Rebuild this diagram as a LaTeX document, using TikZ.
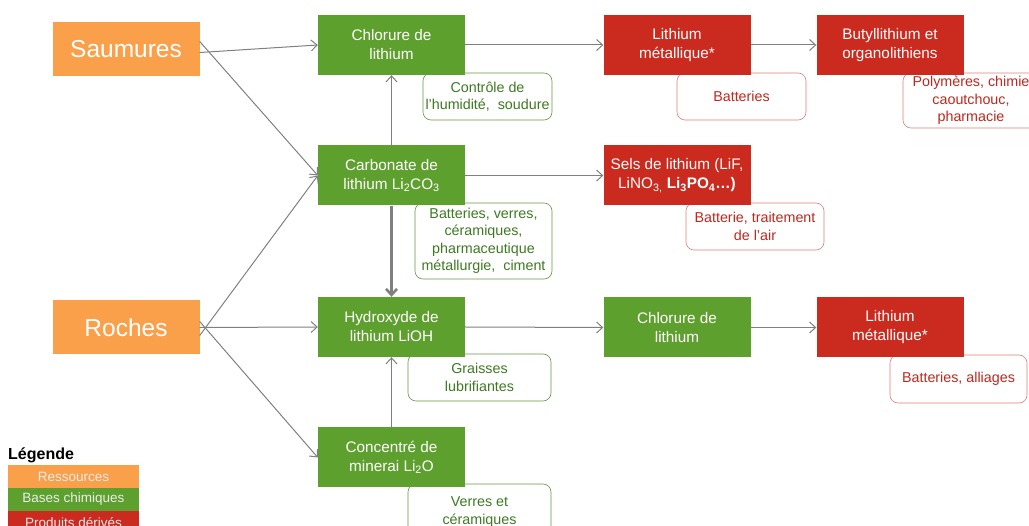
\documentclass[tikz,border=0pt]{standalone}
\usepackage{fontspec}
\setmainfont{Liberation Sans}
\usetikzlibrary{arrows.meta}
\definecolor{ressourcecol}{RGB}{250,160,75}
\definecolor{chimiecol}{RGB}{94,160,45}
\definecolor{produitcol}{RGB}{203,42,30}
\definecolor{vertusage}{RGB}{62,122,34}
\definecolor{rougeusage}{RGB}{190,40,30}
\tikzset{
  boite/.style={text=white, align=center, minimum width=147pt, minimum height=60pt, inner sep=1pt, font=\fontsize{15.3}{19}\selectfont},
  ressource/.style={boite, fill=ressourcecol, minimum height=54pt, font=\fontsize{24.5}{26}\selectfont},
  chimie/.style={boite, fill=chimiecol},
  produit/.style={boite, fill=produitcol},
  usage/.style={draw, fill=white, rounded corners=8pt, align=center, line width=0.6pt, inner sep=1pt, font=\fontsize{14.3}{17.5}\selectfont},
  usagevert/.style={usage, draw=chimiecol!70!gray, text=vertusage},
  usagerouge/.style={usage, draw=produitcol!60!white, text=rougeusage},
  legende/.style={text=white!92!black, align=center, minimum width=131pt, minimum height=23pt, inner sep=0pt, font=\fontsize{13.5}{15}\selectfont},
  fleche/.style={-{Straight Barb[length=6pt,width=11pt]}, draw=gray, line width=1pt}
}
\begin{document}
\begin{tikzpicture}[x=1pt,y=-1pt]
\useasboundingbox (0,0) rectangle (1029,526);
% usages
\node[usagevert, minimum width=129pt, minimum height=47pt] (u1) at (487.5,96.5) {Contrôle de\\l'humidité,~ soudure};
\node[usagerouge, minimum width=129pt, minimum height=47pt] (u2) at (741.5,96.5) {Batteries};
\node[usagerouge, minimum width=136pt, minimum height=55pt] (u3) at (971,100.5) {Polymères, chimie\\caoutchouc,\\pharmacie};
\node[usagevert, minimum width=137pt, minimum height=76pt] (u4) at (483.5,241) {Batteries, verres,\\céramiques,\\pharmaceutique\\métallurgie,~ ciment};
\node[usagerouge, minimum width=138pt, minimum height=47pt] (u5) at (755,226.5) {Batterie, traitement\\de l'air};
\node[usagevert, minimum width=143pt, minimum height=47pt] (u6) at (479.5,377.5) {Graisses\\lubrifiantes};
\node[usagerouge, minimum width=137pt, minimum height=48pt] (u7) at (958.5,379) {Batteries, alliages};
\node[usagevert, minimum width=143pt, minimum height=56pt] (u8) at (479.5,512) {Verres et\\céramiques};
% boites
\node[ressource] (saum) at (126,49.5) {Saumures};
\node[ressource] (roch) at (126,327.5) {Roches};
\node[chimie] (chl1) at (391.5,45) {Chlorure de\\lithium};
\node[chimie] (carb) at (391.5,175.5) {Carbonate de\\lithium Li\textsubscript{2}CO\textsubscript{3}};
\node[chimie] (hydr) at (391.5,327) {Hydroxyde de\\lithium LiOH};
\node[chimie] (conc) at (391.5,457.5) {Concentré de\\minerai Li\textsubscript{2}O};
\node[produit] (lim1) at (677,45) {Lithium\\métallique*};
\node[produit] (buty) at (890,45) {Butyllithium et\\organolithiens};
\node[produit] (sels) at (677,175.5) {Sels de lithium (LiF,\\LiNO\textsubscript{3,} \textbf{Li\textsubscript{3}PO\textsubscript{4}…)}};
\node[chimie] (chl2) at (677,327.5) {Chlorure de\\lithium};
\node[produit] (lim2) at (890,327.5) {Lithium\\métallique*};
% fleches
\draw[fleche] ([yshift=-3pt]saum.east) -- (chl1.west);
\draw[fleche] ([yshift=8pt]saum.east) -- (carb.west);
\draw[fleche] ([yshift=-8pt]roch.east) -- (carb.west);
\draw[fleche] (roch.east) -- (hydr.west);
\draw[fleche] ([yshift=6pt]roch.east) -- (conc.west);
\draw[fleche] (carb.north) -- (chl1.south);
\draw[fleche, line width=2.6pt] (carb.south) -- (hydr.north);
\draw[fleche] (conc.north) -- (hydr.south);
\draw[fleche] (chl1.east) -- (lim1.west);
\draw[fleche] (lim1.east) -- (buty.west);
\draw[fleche] (carb.east) -- (sels.west);
\draw[fleche] (hydr.east) -- (chl2.west);
\draw[fleche] (chl2.east) -- (lim2.west);
% legende
\node[anchor=west, inner sep=0pt, font=\fontsize{16}{18}\selectfont\bfseries] (titre) at (8,455) {Légende};
\node[legende, fill=ressourcecol] (leg1) at (73.5,476.5) {Ressources};
\node[legende, fill=chimiecol] (leg2) at (73.5,499.5) {Bases chimiques};
\node[legende, fill=produitcol] (leg3) at (73.5,522.5) {Produits dérivés};
\end{tikzpicture}
\end{document}
